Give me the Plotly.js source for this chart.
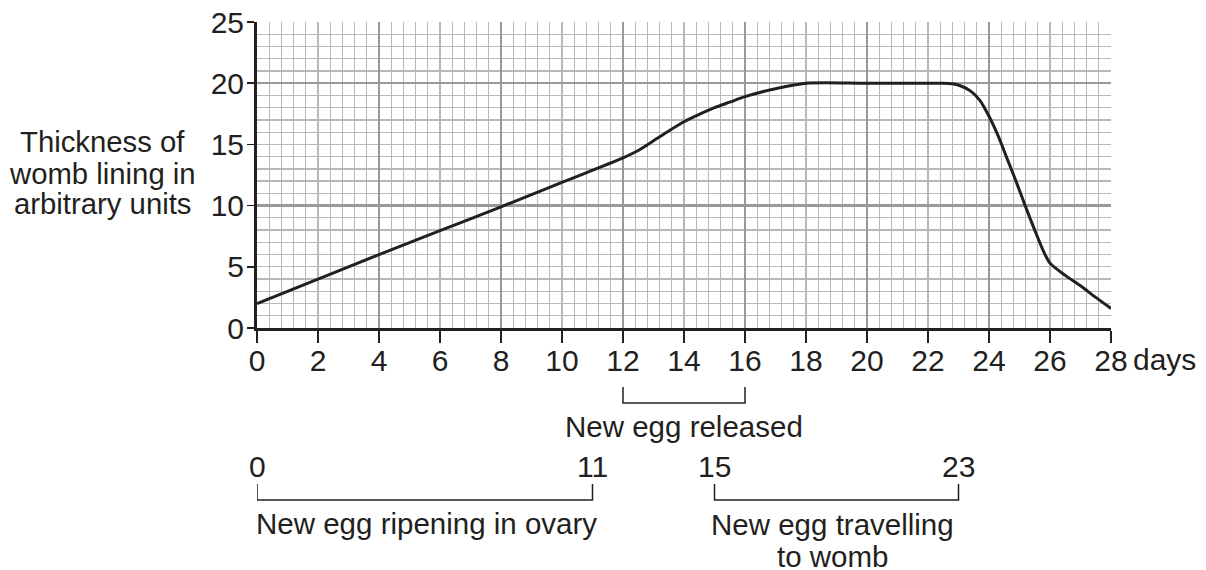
<!DOCTYPE html>
<html>
<head>
<meta charset="utf-8">
<script src="https://cdn.plot.ly/plotly-3.0.1.min.js"></script>
<style>
  html, body { margin: 0; padding: 0; background: #ffffff; }
  #chart { width: 1206px; height: 570px; }
</style>
</head>
<body>
<div id="chart"></div>
<script>
// ---- data ----
const days = [0, 2, 4, 6, 8, 10, 12, 12.5, 13, 13.5, 14, 14.5, 15, 15.5, 16, 17, 18, 20, 22, 22.5, 22.8, 23.1, 23.4, 23.7, 24.0, 24.3, 24.6, 24.9, 25.2, 25.5, 25.8, 26, 26.5, 27, 27.5, 28];
const thickness = [2, 4, 6, 7.95, 9.9, 11.9, 13.9, 14.5, 15.3, 16.1, 16.85, 17.45, 18.0, 18.45, 18.9, 19.55, 20, 20, 20, 20, 19.95, 19.75, 19.35, 18.6, 17.3, 15.7, 13.8, 11.9, 9.9, 8.0, 6.2, 5.3, 4.3, 3.45, 2.5, 1.6];
const xTicks = [0, 2, 4, 6, 8, 10, 12, 14, 16, 18, 20, 22, 24, 26, 28];
const yTicks = [0, 5, 10, 15, 20, 25];
const yTitleLines = ["Thickness of", "womb lining in", "arbitrary units"];
const xUnit = "days";
const releasedRange = [12, 16];
const releasedLabel = "New egg released";
const ripeningRange = [0, 11];
const ripeningLabel = "New egg ripening in ovary";
const travellingRange = [15, 23];
const travellingLabel = ["New egg travelling", "to womb"];

// ---- styling ----
const ink = '#231f20';
const fontFam = 'Liberation Sans, Arial, Helvetica, sans-serif';
const tickFs = 30;
const textFs = 29.5;
const minorGrid = '#b8b8b8';
const majorGrid = '#999999';

const traces = [
  {
    x: days, y: thickness, type: 'scatter', mode: 'lines',
    line: { color: ink, width: 3, shape: 'spline', smoothing: 0.8 },
    hoverinfo: 'skip', showlegend: false
  },
  { x: [], y: [], type: 'scatter', mode: 'lines', xaxis: 'x2', yaxis: 'y2', hoverinfo: 'skip', showlegend: false },
  { x: [], y: [], type: 'scatter', mode: 'lines', xaxis: 'x3', yaxis: 'y3', hoverinfo: 'skip', showlegend: false }
];

function txt(text, x, xref, xanchor, yshift, xshift, size) {
  return {
    text: text, x: x, xref: xref, xanchor: xanchor, y: 0, yref: 'paper', yanchor: 'middle',
    yshift: yshift, xshift: xshift || 0, showarrow: false,
    font: { family: fontFam, size: size || textFs, color: ink }
  };
}

const annotations = [];
yTitleLines.forEach((t, i) => annotations.push(txt(t, 0, 'paper', 'center', [187, 155, 125][i], -155, 29.3)));
annotations.push(txt(xUnit, xTicks[xTicks.length - 1], 'x', 'left', -31, 20, tickFs));
annotations.push(txt(releasedLabel, (releasedRange[0] + releasedRange[1]) / 2, 'x', 'center', -98));
[ripeningRange[0], ripeningRange[1], travellingRange[0], travellingRange[1]].forEach(v =>
  annotations.push(txt(String(v), v, 'x', 'center', -138, 0, tickFs)));
annotations.push(txt(ripeningLabel, ripeningRange[0], 'x', 'left', -195, -3));
annotations.push(txt(travellingLabel[0], (travellingRange[0] + travellingRange[1]) / 2, 'x', 'center', -196, -4));
annotations.push(txt(travellingLabel[1], (travellingRange[0] + travellingRange[1]) / 2, 'x', 'center', -228, -4));

function bracket(r, yTop, yBot) {
  return {
    type: 'path', xref: 'x', yref: 'paper',
    path: `M ${r[0]},${yTop} L ${r[0]},${yBot} L ${r[1]},${yBot} L ${r[1]},${yTop}`,
    line: { color: ink, width: 1.5 }
  };
}
const shapes = [
  bracket(releasedRange, -0.1928, -0.2451),
  bracket(ripeningRange, -0.5098, -0.5621),
  bracket(travellingRange, -0.5098, -0.5621)
];

function gridAxis(over, range, dtick, color, width) {
  return {
    overlaying: over, range: range, tick0: 0, dtick: dtick,
    showgrid: true, gridcolor: color, gridwidth: width,
    showticklabels: false, ticks: '', showline: false, zeroline: false, fixedrange: true
  };
}

const layout = {
  width: 1206, height: 570,
  margin: { l: 257, r: 95, t: 22, b: 242, pad: 0 },
  paper_bgcolor: '#ffffff', plot_bgcolor: '#ffffff',
  font: { family: fontFam, size: tickFs, color: ink },
  showlegend: false,
  xaxis: {
    range: [0, 28], tickvals: xTicks, ticktext: xTicks.map(String),
    ticks: 'outside', ticklen: 12, tickwidth: 1.5, tickcolor: ink,
    ticklabelstandoff: -8,
    showline: true, linewidth: 3, linecolor: ink,
    showgrid: false, zeroline: false, fixedrange: true,
    tickfont: { family: fontFam, size: tickFs, color: ink }
  },
  yaxis: {
    range: [0, 25], tickvals: yTicks, ticktext: yTicks.map(String),
    ticks: 'outside', ticklen: 7, tickwidth: 1.5, tickcolor: ink,
    ticklabelstandoff: -3,
    showline: true, linewidth: 3, linecolor: ink,
    showgrid: false, zeroline: false, fixedrange: true,
    tickfont: { family: fontFam, size: tickFs, color: ink }
  },
  xaxis2: gridAxis('x', [0, 28], 0.4, minorGrid, 1.3),
  yaxis2: gridAxis('y', [0, 25], 1, minorGrid, 1.3),
  xaxis3: gridAxis('x', [0, 28], 4, majorGrid, 2.5),
  yaxis3: gridAxis('y', [0, 25], 10, majorGrid, 2.5),
  annotations: annotations,
  shapes: shapes
};

Plotly.newPlot('chart', traces, layout, { staticPlot: true, displayModeBar: false });
</script>
</body>
</html>
